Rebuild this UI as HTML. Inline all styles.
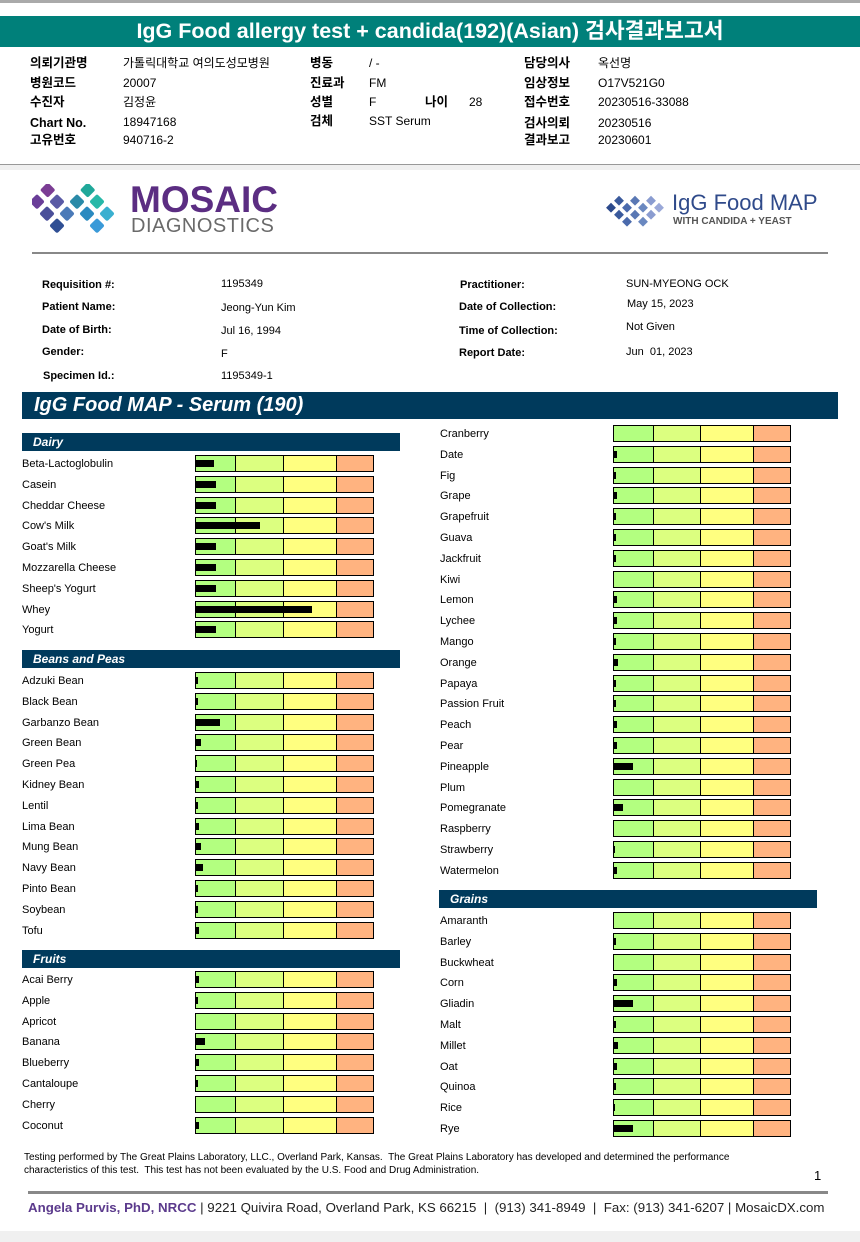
<!DOCTYPE html>
<html><head><meta charset="utf-8">
<style>
*{margin:0;padding:0;box-sizing:border-box}
body{width:860px;height:1242px;position:relative;background:#fff;font-family:"Liberation Sans","Noto Sans CJK KR",sans-serif;overflow:hidden;color:#000}
.a{position:absolute;white-space:nowrap;line-height:14px}
.k{font-size:12px}
.kb{font-size:12.5px;font-weight:bold}
.s{font-size:11px}
.sb{font-size:11px;font-weight:bold}
.hdr{position:absolute;background:#003a5c;color:#fff;font-weight:bold;font-style:italic;font-size:12px;padding-left:11px;line-height:18px}
.lbl{position:absolute;font-size:11px;line-height:14px;white-space:nowrap}
.bar{position:absolute;height:17px;border:1px solid #000;display:flex}
.bar div{height:100%}
.val{position:absolute;height:7px;background:#000}
</style></head><body>
<div class="a" style="left:0;top:0;width:860px;height:3px;background:#aaa"></div>
<div class="a" style="left:0;top:16px;width:860px;height:31px;background:#00807a;color:#fff;font-size:21.5px;font-weight:bold;text-align:center;line-height:31px">IgG Food allergy test + candida(192)(Asian) 검사결과보고서</div>

<div>
<div class="a kb" style="left:30px;top:56px">의뢰기관명</div><div class="a k" style="left:123px;top:56px">가톨릭대학교 여의도성모병원</div>
<div class="a kb" style="left:30px;top:76px">병원코드</div><div class="a k" style="left:123px;top:76px">20007</div>
<div class="a kb" style="left:30px;top:95px">수진자</div><div class="a k" style="left:123px;top:95px">김정윤</div>
<div class="a kb" style="left:30px;top:116px">Chart No.</div><div class="a k" style="left:123px;top:115px">18947168</div>
<div class="a kb" style="left:30px;top:133px">고유번호</div><div class="a k" style="left:123px;top:133px">940716-2</div>
<div class="a kb" style="left:310px;top:56px">병동</div><div class="a k" style="left:369px;top:56px">/ -</div>
<div class="a kb" style="left:310px;top:76px">진료과</div><div class="a k" style="left:369px;top:76px">FM</div>
<div class="a kb" style="left:310px;top:95px">성별</div><div class="a k" style="left:369px;top:95px">F</div>
<div class="a kb" style="left:425px;top:95px">나이</div><div class="a k" style="left:469px;top:95px">28</div>
<div class="a kb" style="left:310px;top:114px">검체</div><div class="a k" style="left:369px;top:114px">SST Serum</div>
<div class="a kb" style="left:524px;top:56px">담당의사</div><div class="a k" style="left:598px;top:56px">옥선명</div>
<div class="a kb" style="left:524px;top:76px">임상정보</div><div class="a k" style="left:598px;top:76px">O17V521G0</div>
<div class="a kb" style="left:524px;top:95px">접수번호</div><div class="a k" style="left:598px;top:95px">20230516-33088</div>
<div class="a kb" style="left:524px;top:116px">검사의뢰</div><div class="a k" style="left:598px;top:116px">20230516</div>
<div class="a kb" style="left:524px;top:133px">결과보고</div><div class="a k" style="left:598px;top:133px">20230601</div>
</div>
<div class="a" style="left:0;top:164px;width:860px;height:1px;background:#999"></div>
<div class="a" style="left:0;top:165px;width:860px;height:5px;background:#f0f0f0"></div>

<svg class="a" style="left:32px;top:184px" width="90" height="52" viewBox="0 0 90 52">
<rect x="10" y="0" width="11" height="11" rx="2" fill="#7b3d94" transform="rotate(45 15 6)"/>
<rect x="0" y="12" width="11" height="11" rx="2" fill="#6a3e98" transform="rotate(45 5 17)"/>
<rect x="20" y="12" width="11" height="11" rx="2" fill="#5a5aa5" transform="rotate(45 25 17)"/>
<rect x="10" y="24" width="11" height="11" rx="2" fill="#4a4f9a" transform="rotate(45 15 29)"/>
<rect x="30" y="24" width="11" height="11" rx="2" fill="#4a7ab8" transform="rotate(45 35 29)"/>
<rect x="20" y="36" width="11" height="11" rx="2" fill="#2f4f94" transform="rotate(45 25 41)"/>
<rect x="40" y="12" width="11" height="11" rx="2" fill="#2a8aa8" transform="rotate(45 45 17)"/>
<rect x="50" y="0" width="11" height="11" rx="2" fill="#20a89a" transform="rotate(45 55 6)"/>
<rect x="60" y="12" width="11" height="11" rx="2" fill="#28b8a8" transform="rotate(45 65 17)"/>
<rect x="50" y="24" width="11" height="11" rx="2" fill="#2a8ac0" transform="rotate(45 55 29)"/>
<rect x="70" y="24" width="11" height="11" rx="2" fill="#3ab0d0" transform="rotate(45 75 29)"/>
<rect x="60" y="36" width="11" height="11" rx="2" fill="#3a9ad8" transform="rotate(45 65 41)"/>
</svg>
<div class="a" style="left:130px;top:181px;font-size:37px;line-height:38px;color:#5b2d82;font-weight:bold">MOSAIC</div>
<div class="a" style="left:131px;top:215px;font-size:20px;line-height:22px;color:#6a6a6a;letter-spacing:0.5px">DIAGNOSTICS</div>

<svg class="a" style="left:606px;top:194px" width="62" height="34" viewBox="0 0 62 34">
<rect x="2" y="10" width="7" height="7" fill="#2c4a8c" transform="rotate(45 5 13)"/>
<rect x="10" y="3" width="7" height="7" fill="#3a5a9c" transform="rotate(45 13 6)"/>
<rect x="10" y="17" width="7" height="7" fill="#3a5a9c" transform="rotate(45 13 20)"/>
<rect x="18" y="10" width="7" height="7" fill="#4a6aac" transform="rotate(45 21 13)"/>
<rect x="18" y="24" width="7" height="7" fill="#4a6aac" transform="rotate(45 21 27)"/>
<rect x="26" y="3" width="7" height="7" fill="#5a78b4" transform="rotate(45 29 6)"/>
<rect x="26" y="17" width="7" height="7" fill="#5a78b4" transform="rotate(45 29 20)"/>
<rect x="34" y="10" width="7" height="7" fill="#6a88c0" transform="rotate(45 37 13)"/>
<rect x="34" y="24" width="7" height="7" fill="#6a88c0" transform="rotate(45 37 27)"/>
<rect x="42" y="3" width="7" height="7" fill="#8a9cd0" transform="rotate(45 45 6)"/>
<rect x="42" y="17" width="7" height="7" fill="#8a9cd0" transform="rotate(45 45 20)"/>
<rect x="50" y="10" width="7" height="7" fill="#9aa8d8" transform="rotate(45 53 13)"/>
</svg>
<div class="a" style="left:672px;top:191px;font-size:22px;line-height:24px;color:#2f4a8a">IgG Food MAP</div>
<div class="a" style="left:673px;top:216px;font-size:10px;line-height:11px;color:#555;font-weight:bold">WITH CANDIDA + YEAST</div>
<div class="a" style="left:32px;top:252px;width:796px;height:2px;background:#888"></div>

<div>
<div class="a sb" style="left:42px;top:278px">Requisition #:</div><div class="a s" style="left:221px;top:277px">1195349</div>
<div class="a sb" style="left:42px;top:300px">Patient Name:</div><div class="a s" style="left:221px;top:301px">Jeong-Yun Kim</div>
<div class="a sb" style="left:42px;top:323px">Date of Birth:</div><div class="a s" style="left:221px;top:324px">Jul 16, 1994</div>
<div class="a sb" style="left:42px;top:345px">Gender:</div><div class="a s" style="left:221px;top:347px">F</div>
<div class="a sb" style="left:43px;top:369px">Specimen Id.:</div><div class="a s" style="left:221px;top:369px">1195349-1</div>
<div class="a sb" style="left:460px;top:278px">Practitioner:</div><div class="a s" style="left:626px;top:277px">SUN-MYEONG OCK</div>
<div class="a sb" style="left:459px;top:300px">Date of Collection:</div><div class="a s" style="left:627px;top:297px">May 15, 2023</div>
<div class="a sb" style="left:459px;top:324px">Time of Collection:</div><div class="a s" style="left:626px;top:320px">Not Given</div>
<div class="a sb" style="left:459px;top:346px">Report Date:</div><div class="a s" style="left:626px;top:345px">Jun&nbsp; 01, 2023</div>
</div>

<div class="a" style="left:22px;top:392px;width:816px;height:27px;background:#003a5c;color:#fff;font-size:20px;font-weight:bold;font-style:italic;line-height:27px;padding-left:12px">IgG Food MAP - Serum (190)</div>

<div id="chart"></div>

<div class="a" style="left:24px;top:1151px;font-size:10px;line-height:13px">Testing performed by The Great Plains Laboratory, LLC., Overland Park, Kansas.&nbsp; The Great Plains Laboratory has developed and determined the performance<br>characteristics of this test.&nbsp; This test has not been evaluated by the U.S. Food and Drug Administration.</div>
<div class="a" style="left:814px;top:1169px;font-size:13px">1</div>
<div class="a" style="left:28px;top:1191px;width:800px;height:3px;background:#888"></div>
<div class="a" style="left:28px;top:1199px;font-size:13.3px;line-height:17px;color:#222"><span style="color:#5b3a8c;font-weight:bold">Angela Purvis, PhD, NRCC</span> | 9221 Quivira Road, Overland Park, KS 66215&nbsp; |&nbsp; (913) 341-8949&nbsp; |&nbsp; Fax: (913) 341-6207 | MosaicDX.com</div>
<div class="a" style="left:0;top:1231px;width:860px;height:11px;background:#f0f0f0"></div>

<script>
// Values: IgG reading on a 0-178 scale (width units of the range bar)
const dairyNames = ["Beta-Lactoglobulin","Casein","Cheddar Cheese","Cow's Milk","Goat's Milk","Mozzarella Cheese","Sheep's Yogurt","Whey","Yogurt"];
const dairyValues = [18,20,20,64,20,20,20,115,20];
const beanNames = ["Adzuki Bean","Black Bean","Garbanzo Bean","Green Bean","Green Pea","Kidney Bean","Lentil","Lima Bean","Mung Bean","Navy Bean","Pinto Bean","Soybean","Tofu"];
const beanValues = [2,2,24,5,1,3,2,3,5,7,2,2,3];
const fruitNamesA = ["Acai Berry","Apple","Apricot","Banana","Blueberry","Cantaloupe","Cherry","Coconut"];
const fruitValuesA = [3,2,0,9,3,2,0,3];
const fruitNamesB = ["Cranberry","Date","Fig","Grape","Grapefruit","Guava","Jackfruit","Kiwi","Lemon","Lychee","Mango","Orange","Papaya","Passion Fruit","Peach","Pear","Pineapple","Plum","Pomegranate","Raspberry","Strawberry","Watermelon"];
const fruitValuesB = [0,3,2,3,2,2,2,0,3,3,2,4,2,2,3,3,19,0,9,0,1,3];
const grainNames = ["Amaranth","Barley","Buckwheat","Corn","Gliadin","Malt","Millet","Oat","Quinoa","Rice","Rye"];
const grainValues = [0,2,0,3,19,2,4,3,2,1,19];
const rangeBreaks = [0,40,88,142,178];
const rangeColors = ["#b3ff80","#dcff80","#ffff80","#ffb380"];

const chart = document.getElementById('chart');
const PITCH = 20.8;
function xScale(v, w){ return v / 178 * w; }

function header(text, x, y, w){
  const h = document.createElement('div');
  h.className = 'hdr';
  h.style.left = x + 'px'; h.style.top = y + 'px'; h.style.width = w + 'px'; h.style.height = '18px';
  h.textContent = text;
  
  
  chart.appendChild(h);
}
function section(names, values, labelX, barX, barW, top){
  names.forEach(function(n, i){
    const y = top + i * PITCH;
    const l = document.createElement('div');
    l.className = 'lbl';
    l.style.left = labelX + 'px'; l.style.top = (y + 2) + 'px';
    l.textContent = n;
    
    
    chart.appendChild(l);
    const b = document.createElement('div');
    b.className = 'bar';
    b.style.left = barX + 'px'; b.style.top = y + 'px'; b.style.width = barW + 'px';
    
    
    for (let s = 0; s < 4; s++){
      const seg = document.createElement('div');
      seg.style.width = xScale(rangeBreaks[s+1] - rangeBreaks[s], barW) + 'px';
      seg.style.background = rangeColors[s];
      if (s < 3) seg.style.borderRight = '1px solid #000';
      
      
      b.appendChild(seg);
    }
    chart.appendChild(b);
    const v = values[i];
    if (v > 0){
      const m = document.createElement('div');
      m.className = 'val';
      m.style.left = (barX + 1) + 'px'; m.style.top = (y + 5) + 'px';
      m.style.width = xScale(v, barW) + 'px';
      
      
      chart.appendChild(m);
    }
  });
}
header('Dairy', 22, 433, 378);
section(dairyNames, dairyValues, 22, 195, 179, 455);
header('Beans and Peas', 22, 650, 378);
section(beanNames, beanValues, 22, 195, 179, 672);
header('Fruits', 22, 950, 378);
section(fruitNamesA, fruitValuesA, 22, 195, 179, 971);
section(fruitNamesB, fruitValuesB, 440, 613, 178, 425);
header('Grains', 439, 890, 378);
section(grainNames, grainValues, 440, 613, 178, 912);
</script>
</body></html>
